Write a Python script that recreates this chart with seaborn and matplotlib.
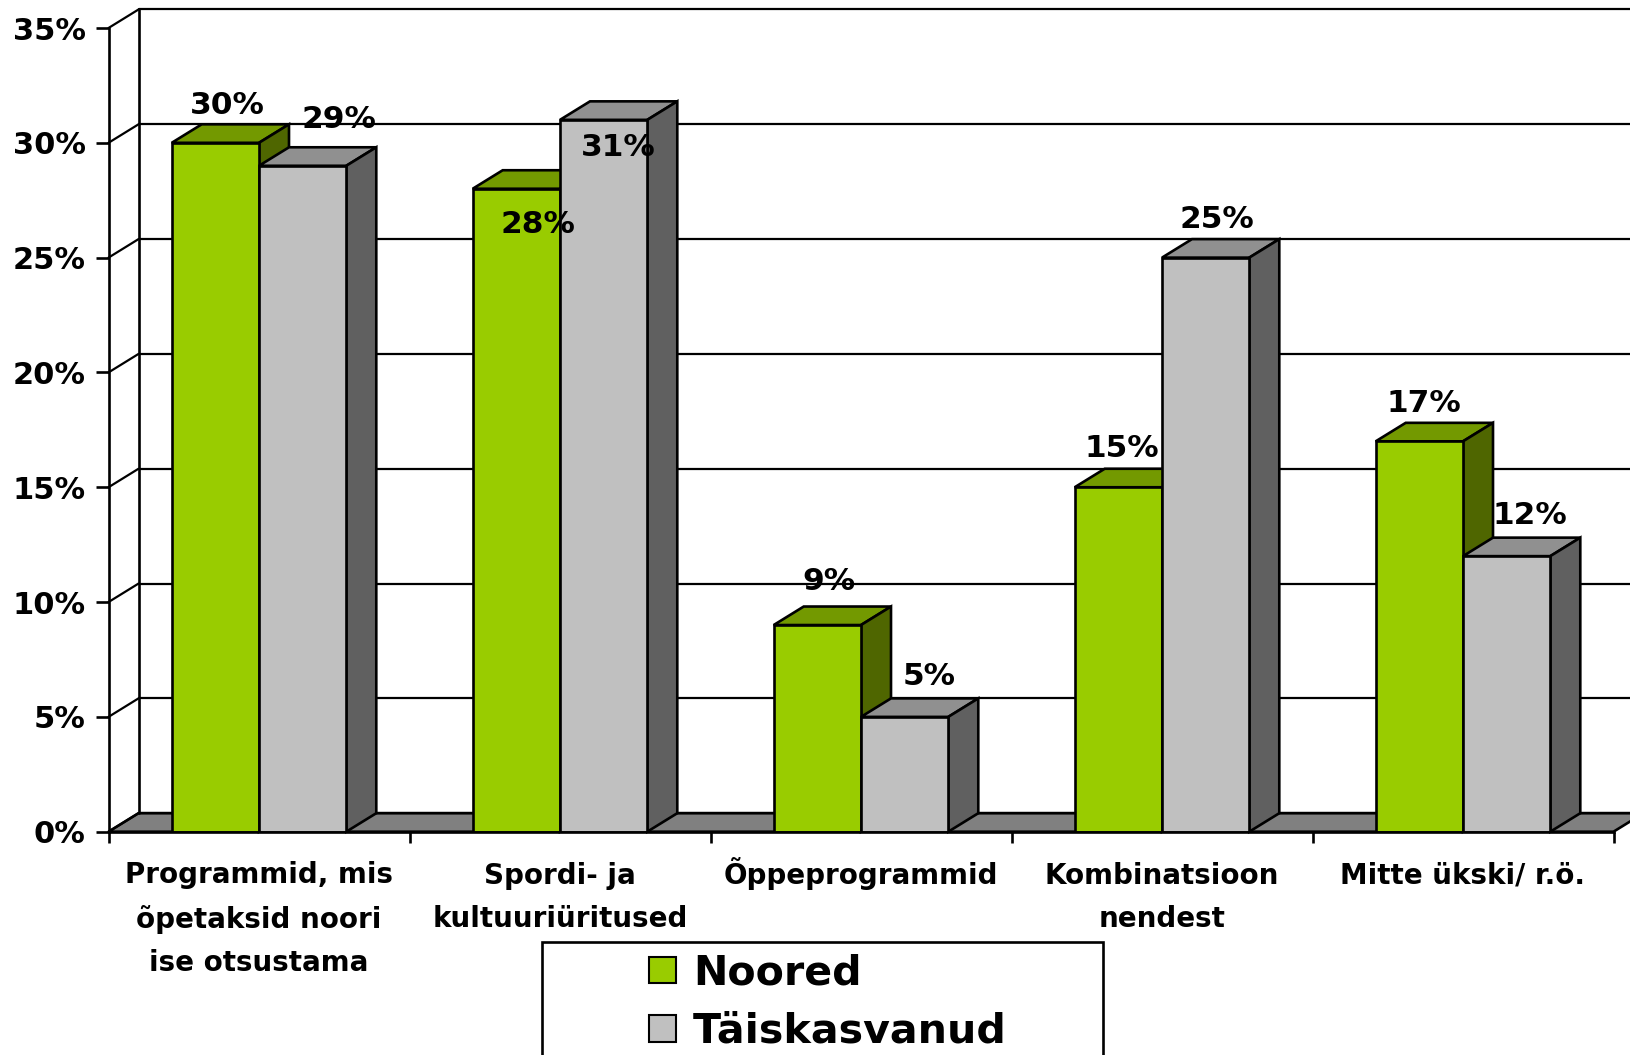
"""
Noored vs taiskasvanud: 3D-looking grouped bars, drawn on a flat seaborn barplot.
"""

import pandas as pd
import matplotlib.pyplot as plt
import seaborn as sns
from matplotlib.patches import Patch, Polygon, Rectangle

categories = [
    'Programmid, mis\nõpetaksid noori\nise otsustama',
    'Spordi- ja\nkultuuriüritused',
    'Õppeprogrammid',
    'Kombinatsioon\nnendest',
    'Mitte ükski/ r.ö.',
]
noored = [30, 28, 9, 15, 17]
taiskasvanud = [29, 31, 5, 25, 12]
y_ticks = [0, 5, 10, 15, 20, 25, 30, 35]

# label offsets from the front top centre of each bar, in pixels
noored_offsets = [(12, 37), (22, -36), (12, 44), (3, 39), (5, 38)]
taiskasvanud_offsets = [(36, 46), (15, -28), (24, 40), (11, 38), (23, 41)]

W, H = 1630, 1055
LEFT, RIGHT, TOP, BOTTOM = 108.5, 1613.5, 28, 831.7
DX = 30 / 301  # depth of the fake 3D, in data units
DY = 18.5 / 114.8 * 5
EDGE = 1.9
FONT = 'DejaVu Sans'
LINE_PT = 31.4  # category label line step, in points

sns.set_theme(style='white')
plt.rcParams['font.family'] = [FONT]
plt.rcParams['font.weight'] = 'bold'

df = pd.DataFrame({
    'kategooria': categories * 2,
    'osakaal': noored + taiskasvanud,
    'grupp': ['Noored'] * 5 + ['Täiskasvanud'] * 5,
})

fig = plt.figure(figsize=(W / 100, H / 100), dpi=100, facecolor='white')
ax = fig.add_axes([LEFT / W, 1 - BOTTOM / H, (RIGHT - LEFT) / W, (BOTTOM - TOP) / H])
ax.patch.set_alpha(0)

sns.barplot(data=df, x='kategooria', y='osakaal', hue='grupp', ax=ax,
            palette=['#99CC00', '#C0C0C0'], saturation=1, width=0.58, gap=0,
            edgecolor='black', linewidth=EDGE, legend=False)


def add_depth(bar, top_color, side_color, z):
    """Draw top and side faces behind a bar."""
    x0, x1 = bar.get_x(), bar.get_x() + bar.get_width()
    h = bar.get_height()
    top = [(x0, h), (x1, h), (x1 + DX, h + DY), (x0 + DX, h + DY)]
    side = [(x1, 0), (x1 + DX, DY), (x1 + DX, h + DY), (x1, h)]
    for pts, color in [(top, top_color), (side, side_color)]:
        ax.add_patch(Polygon(pts, closed=True, facecolor=color, edgecolor='black',
                             linewidth=EDGE, zorder=z, joinstyle='miter', clip_on=False))


styles = [('#739900', '#4F6600', noored_offsets), ('#909090', '#606060', taiskasvanud_offsets)]
for i, (container, (top_c, side_c, offsets)) in enumerate(zip(ax.containers, styles)):
    for bar, value, off in zip(container.patches, container.datavalues, offsets):
        add_depth(bar, top_c, side_c, 3 + 2 * i)
        bar.set_zorder(4 + 2 * i)
        ax.annotate(f'{value:.0f}%', (bar.get_x() + bar.get_width() / 2, bar.get_height()),
                    xytext=off, textcoords='offset pixels', ha='center', va='center',
                    fontsize=22.5, color='black', zorder=9, annotation_clip=False)

# floor and back wall
x_min, x_max = -0.5, 4.5
ax.add_patch(Polygon([(x_min, 0), (x_max, 0), (x_max + DX, DY), (x_min + DX, DY)],
                     closed=True, facecolor='#808080', edgecolor='black',
                     linewidth=EDGE, zorder=1, clip_on=False))
for y in y_ticks:
    ax.plot([x_min + DX, x_max + DX], [y + DY, y + DY], color='black', lw=1.6, zorder=1.5, clip_on=False)
    ax.plot([x_min, x_min + DX], [y, y + DY], color='black', lw=1.6, zorder=1.5, clip_on=False)
ax.plot([x_min + DX, x_min + DX], [DY, 35 + DY], color='black', lw=EDGE, zorder=1.5, clip_on=False)

ax.set_xlim(x_min, x_max)
ax.set_ylim(0, 35)
ax.set_xlabel('')
ax.set_ylabel('')

ax.set_yticks(y_ticks, [f'{t}%' for t in y_ticks])
ax.set_xticks([x_min + i for i in range(6)], [''] * 6)
ax.set_xticks(range(5), categories, minor=True)
ax.tick_params(axis='y', left=True, length=9.5, width=EDGE, pad=7, labelsize=22, colors='black')
ax.tick_params(axis='x', which='major', bottom=True, length=8, width=EDGE, color='black')
ax.tick_params(axis='x', which='minor', bottom=False, length=0, pad=38, labelsize=20, labelcolor='black')

# baseline alignment sits on the last line, so push multi-line labels down to line up the first lines
for tick, name in zip(ax.xaxis.get_minor_ticks(), categories):
    tick.label1.set_linespacing(1.7)
    tick.label1.set_verticalalignment('baseline')
    tick.set_pad(37.5 + name.count('\n') * LINE_PT)

sns.despine(ax=ax)
for side in ['left', 'bottom']:
    ax.spines[side].set_color('black')
    ax.spines[side].set_linewidth(EDGE)
    ax.spines[side].set_zorder(8)

# legend box runs off the bottom of the picture
fig.add_artist(Rectangle((542 / W, -0.02), 561 / W, 1 - 942 / H + 0.02, transform=fig.transFigure,
                         facecolor='white', edgecolor='black', linewidth=EDGE))
handles = [Patch(facecolor='#99CC00', edgecolor='black', linewidth=1.5, label='Noored'),
           Patch(facecolor='#C0C0C0', edgecolor='black', linewidth=1.5, label='Täiskasvanud')]
fig.legend(handles=handles, loc='upper left', bbox_to_anchor=(637 / W, 1 - 941 / H),
           frameon=False, fontsize=29.6, handlelength=0.66, handleheight=0.61,
           handletextpad=0.40, labelspacing=0.45, borderpad=0.3, borderaxespad=0,
           labelcolor='black')

fig.savefig('out.png', dpi=100)
